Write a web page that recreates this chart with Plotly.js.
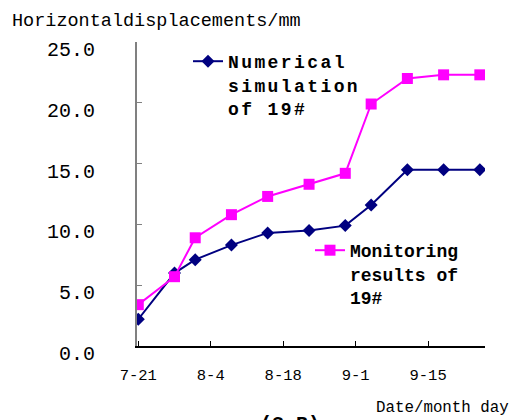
<!DOCTYPE html>
<html>
<head>
<meta charset="utf-8">
<script src="https://cdn.plot.ly/plotly-3.0.1.min.js"></script>
<style>
html,body{margin:0;padding:0;background:#fff;}
#chart{width:509px;height:420px;}
.legendtext{letter-spacing:2.4px;}
</style>
</head>
<body>
<div id="chart"></div>
<script>
// Dates of the observations (month-day)
var dates = ['2013-07-21','2013-07-28','2013-08-01','2013-08-08','2013-08-15','2013-08-23',
             '2013-08-30','2013-09-04','2013-09-11','2013-09-18','2013-09-25'];
// Horizontal displacement, mm
var simulated = [2.2, 6.0, 7.1, 8.3, 9.3, 9.5, 9.9, 11.6, 14.5, 14.5, 14.5];
var monitored = [3.4, 5.7, 8.9, 10.8, 12.3, 13.3, 14.2, 19.9, 22.0, 22.3, 22.3];
var tickDates = ['2013-07-21','2013-08-04','2013-08-18','2013-09-01','2013-09-15'];
var tickLabels = ['7-21','8-4','8-18','9-1','9-15'];
var seriesNames = ['Numerical<br>simulation<br>of 19#', 'Monitoring<br>results of<br>19#'];
var yTitle = 'Horizontaldisplacements/mm';
var xTitle = 'Date/month day';
var figLabel = '(3-B)';

var mono = '"Liberation Mono", "DejaVu Sans Mono", monospace';

var traces = [
  {x: dates, y: simulated, name: seriesNames[0], type: 'scatter', mode: 'lines+markers',
   line: {color: '#000080', width: 2},
   marker: {symbol: 'diamond', size: 10, color: '#000080'},
   legend: 'legend'},
  {x: dates, y: monitored, name: seriesNames[1], type: 'scatter', mode: 'lines+markers',
   line: {color: '#FF00FF', width: 2},
   marker: {symbol: 'square', size: 11, color: '#FF00FF'},
   legend: 'legend2'}
];

var legendFont = {family: mono, size: 18, color: '#000', weight: 'bold'};

var layout = {
  width: 509, height: 420,
  margin: {l: 137, r: 24, t: 42, b: 74},
  paper_bgcolor: '#fff', plot_bgcolor: '#fff',
  title: {text: yTitle, x: 12/509, xanchor: 'left', xref: 'container',
          y: 1 - 20/420, yanchor: 'middle', yref: 'container',
          font: {family: mono, size: 18.5, color: '#000'}},
  xaxis: {type: 'date', range: ['2013-07-20 18:00', '2013-09-26 00:00'],
          tickmode: 'array', tickvals: tickDates, ticktext: tickLabels,
          ticks: 'inside', ticklen: 5, tickcolor: '#000', tickwidth: 1,
          showline: true, linecolor: '#000', linewidth: 1.5,
          showgrid: false, zeroline: false, ticklabelstandoff: 14,
          tickfont: {family: mono, size: 15.5, color: '#000'}},
  yaxis: {range: [0, 25], dtick: 5, tickformat: '.1f',
          ticks: 'inside', ticklen: 5, tickcolor: '#808080', tickwidth: 1,
          showline: true, linecolor: '#808080', linewidth: 2,
          showgrid: false, zeroline: false, ticklabelstandoff: 36, ticklabelshift: 7,
          tickfont: {family: mono, size: 20, color: '#000'}},
  showlegend: true,
  legend: {xref: 'paper', yref: 'paper', x: 0.1466, y: 0.9967,
           xanchor: 'left', yanchor: 'top', bgcolor: 'rgba(0,0,0,0)', borderwidth: 0,
           valign: 'top', font: legendFont},
  legend2: {xref: 'paper', yref: 'paper', x: 0.4971, y: 0.375,
            xanchor: 'left', yanchor: 'top', bgcolor: 'rgba(0,0,0,0)', borderwidth: 0,
            valign: 'top', font: legendFont},
  annotations: [
    {text: xTitle, xref: 'paper', yref: 'paper', x: (442-137)/348, y: (346-408)/304,
     xanchor: 'center', yanchor: 'middle', showarrow: false,
     font: {family: mono, size: 15.8, color: '#000'}},
    {text: figLabel, xref: 'paper', yref: 'paper', x: (290-137)/348, y: (346-411)/304,
     xanchor: 'center', yanchor: 'top', showarrow: false,
     font: {family: mono, size: 20, color: '#000', weight: 'bold'}}
  ]
};

Plotly.newPlot('chart', traces, layout, {displayModeBar: false, staticPlot: true});
</script>
</body>
</html>
